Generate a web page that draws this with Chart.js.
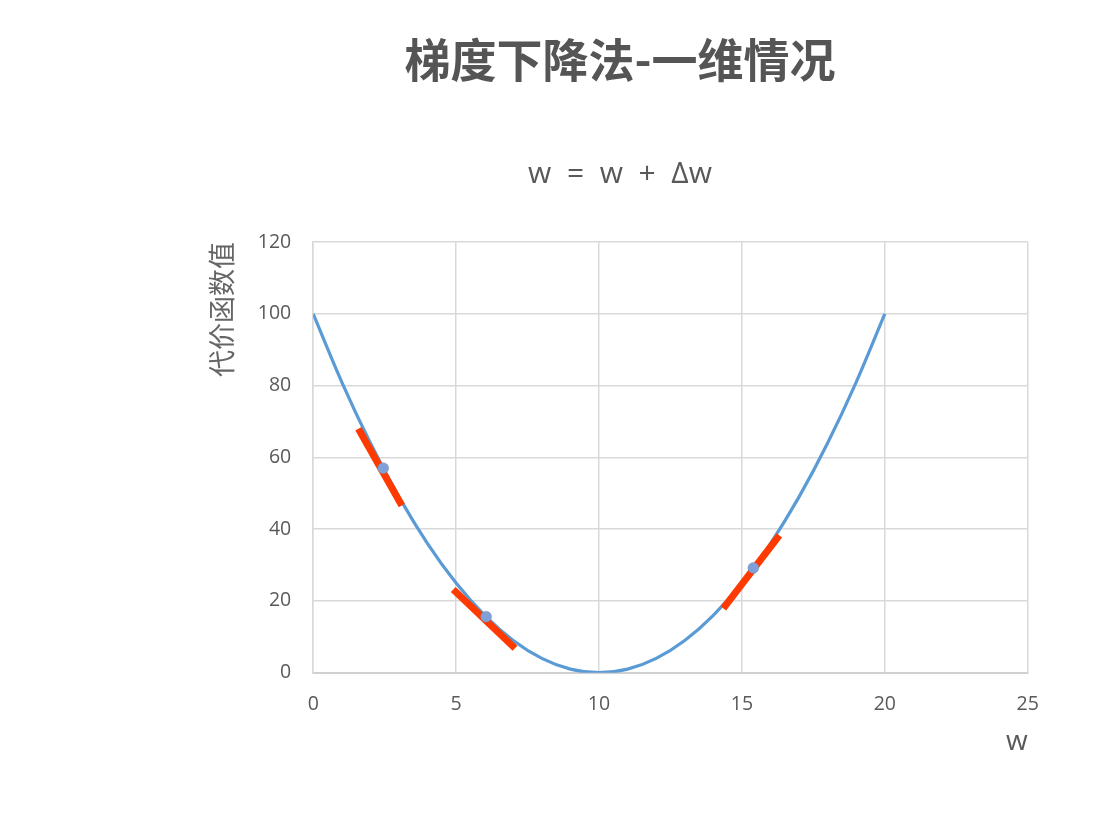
<!DOCTYPE html>
<html>
<head>
<meta charset="utf-8">
<script src="https://cdn.jsdelivr.net/npm/chart.js@4"></script>
<style>
  html, body { margin: 0; padding: 0; background: #ffffff; }
  #wrap { width: 1117px; height: 815px; position: relative; }
</style>
</head>
<body>
<div id="wrap"><canvas id="c"></canvas></div>
<script>
// ---- data ----
const curveW    = [0, 1, 2, 3, 4, 5, 6, 7, 8, 9, 10, 11, 12, 13, 14, 15, 16, 17, 18, 19, 20];
const curveCost = [100, 81, 64, 49, 36, 25, 16, 9, 4, 1, 0, 1, 4, 9, 16, 25, 36, 49, 64, 81, 100];

const pointW    = [2.45, 6.05, 15.4];
const pointCost = [57, 15.6, 29.2];

const tangent1W = [1.58, 3.10];
const tangent1C = [68.0, 46.6];
const tangent2W = [4.90, 7.06];
const tangent2C = [23.2, 6.8];
const tangent3W = [14.35, 16.31];
const tangent3C = [17.9, 38.3];

const xTicks = [0, 5, 10, 15, 20, 25];
const yTicks = [0, 20, 40, 60, 80, 100, 120];

const titleText = '梯度下降法-一维情况';
const subtitleText = 'w  =  w  +  Δw';
const yTitleText = '代价函数值';
const xTitleText = 'w';

// ---- build ----
const toXY = (xs, ys) => xs.map((x, i) => ({ x: x, y: ys[i] }));
const gray = '#595959';
const gridGray = '#D9D9D9';
const red = '#FF3A00';

const tangentStyle = {
  type: 'line', borderColor: red, borderWidth: 7, pointRadius: 0,
  fill: false, borderCapStyle: 'butt', order: 2
};

new Chart(document.getElementById('c'), {
  type: 'line',
  data: {
    datasets: [
      {
        label: 'cost',
        data: toXY(curveW, curveCost),
        borderColor: '#5B9BD5',
        borderWidth: 3.2,
        pointRadius: 0,
        fill: false,
        cubicInterpolationMode: 'monotone',
        order: 3
      },
      Object.assign({ label: 't1', data: toXY(tangent1W, tangent1C) }, tangentStyle),
      Object.assign({ label: 't2', data: toXY(tangent2W, tangent2C) }, tangentStyle),
      Object.assign({ label: 't3', data: toXY(tangent3W, tangent3C) }, tangentStyle),
      {
        type: 'scatter',
        label: 'points',
        data: toXY(pointW, pointCost),
        backgroundColor: '#7FA0D8',
        borderColor: 'rgba(120,130,150,0.35)',
        pointRadius: 5.5,
        pointBorderWidth: 1,
        order: 1
      }
    ]
  },
  options: {
    responsive: true,
    maintainAspectRatio: false,
    animation: false,
    layout: { padding: { left: 123, right: 0, top: 0, bottom: 0 } },
    plugins: {
      legend: { display: false },
      tooltip: { enabled: false },
      title: {
        display: true,
        text: titleText,
        color: '#555555',
        font: { family: '"Noto Sans CJK SC", "Noto Sans", sans-serif', size: 46, weight: 'bold' },
        padding: { top: 32.4, bottom: 0 }
      },
      subtitle: {
        display: true,
        text: subtitleText,
        color: gray,
        font: { family: '"Open Sans", "Noto Sans", sans-serif', size: 30, weight: 'normal' },
        padding: { top: 68.4, bottom: 50.1 }
      }
    },
    scales: {
      x: {
        type: 'linear',
        min: 0, max: 25,
        afterBuildTicks: s => { s.ticks = xTicks.map(v => ({ value: v })); },
        afterFit: s => { s.height = 142.3; },
        grid: { color: gridGray, lineWidth: 1.5, drawTicks: false },
        border: { color: '#D0D0D0', width: 2 },
        ticks: {
          color: gray, padding: 20,
          font: { family: '"Open Sans", "Noto Sans", sans-serif', size: 19.5 }
        },
        title: {
          display: true, text: xTitleText, align: 'end', color: gray,
          font: { family: '"Open Sans", "Noto Sans", sans-serif', size: 28 },
          padding: { top: 0, bottom: 56.2 }
        }
      },
      y: {
        type: 'linear',
        min: 0, max: 120,
        afterBuildTicks: s => { s.ticks = yTicks.map(v => ({ value: v })); },
        afterFit: s => { s.width = 190.2; },
        grid: { color: gridGray, lineWidth: 1.5, drawTicks: false },
        border: { color: gridGray, width: 1.5 },
        ticks: {
          color: gray, padding: 22,
          font: { family: '"Open Sans", "Noto Sans", sans-serif', size: 19.5 }
        },
        title: {
          display: true, text: yTitleText, align: 'end', color: '#666666',
          font: { family: '"Noto Sans CJK SC", sans-serif', size: 27 },
          padding: { top: 82.5, bottom: 0 }
        }
      },
      yRight: {
        type: 'linear',
        position: 'right',
        min: 0, max: 120,
        afterFit: s => { s.width = 89.3; },
        grid: { display: false, drawTicks: false },
        border: { display: false },
        ticks: { display: false }
      }
    }
  }
});
</script>
</body>
</html>
